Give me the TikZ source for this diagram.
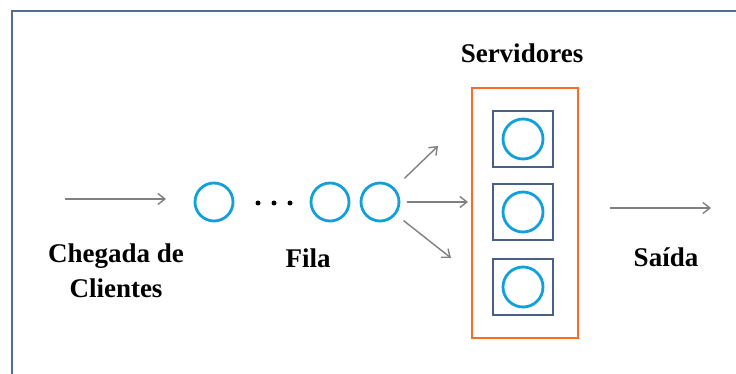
\documentclass[tikz,border=0pt]{standalone}
\usepackage{fontspec}
\setmainfont{Liberation Serif}
\usepackage{tikz}
\usetikzlibrary{positioning,calc,arrows.meta}
\definecolor{FrameBlue}{RGB}{79,109,150}
\definecolor{SrvBlue}{RGB}{72,96,134}
\definecolor{CliBlue}{RGB}{18,160,218}
\definecolor{SrvOrange}{RGB}{250,108,34}
\definecolor{SetaGray}{RGB}{128,128,128}

\begin{document}
\begin{tikzpicture}[x=1pt,y=-1pt]
	\tikzset{
		moldura/.style={draw=FrameBlue, line width=2.8pt},
		cli/.style={circle, draw=CliBlue, line width=2.8pt, fill=white,
			minimum size=38pt, inner sep=0pt, outer sep=0pt},
		srv/.style={draw=SrvBlue, line width=2.4pt, minimum width=60pt,
			minimum height=56pt, inner sep=0pt},
		grupo/.style={draw=SrvOrange, line width=2.6pt},
		seta/.style={draw=SetaGray, line width=1.4pt,
			-{Straight Barb[length=7pt,width=11pt]}},
		ponto/.style={circle, fill=black, minimum size=5pt, inner sep=0pt},
		rot/.style={font=\bfseries\fontsize{27}{35}\selectfont, inner sep=0pt, align=center}
	}
	\useasboundingbox (0,0) rectangle (736,374);
	\draw[moldura] (736,11) -- (12,11) -- (12,374);

	% fila
	\node[cli] (q1) at (214,202) {};
	\node[cli] (q2) at (330,202) {};
	\node[cli] (q3) at (380,202) {};
	\foreach \i/\x in {1/258,2/274,3/290}
		\node[ponto] (p\i) at (\x,203) {};

	% servidores
	\draw[grupo] (472,88) rectangle (578,338);
	\foreach \i/\y in {1/139,2/212,3/287}{
		\node[srv] (s\i) at (523,\y) {};
		\node[cli, minimum size=40pt] (c\i) at (s\i) {};
	}

	% setas
	\coordinate (in0) at (65,199);
	\coordinate (in1) at (166,199);
	\coordinate (su) at (438,146);
	\coordinate (sm) at (468,202);
	\coordinate (sl) at (451,258);
	\coordinate (out0) at (610,208);
	\coordinate (out1) at (711,208);
	\draw[seta] (in0) -- (in1);
	\draw[seta, shorten <=15pt] (q3) -- (su);
	\draw[seta, shorten <=8pt] (q3) -- (sm);
	\draw[seta, shorten <=11pt] (q3) -- (sl);
	\draw[seta] (out0) -- (out1);

	% rotulos
	\node[rot] (lserv) at (522,53) {Servidores};
	\node[rot] (lcheg) at (116,271) {Chegada de\\Clientes};
	\node[rot] (lfila) at (308,258) {Fila};
	\node[rot] (lsai) at (666,257) {Saída};
\end{tikzpicture}
\end{document}
